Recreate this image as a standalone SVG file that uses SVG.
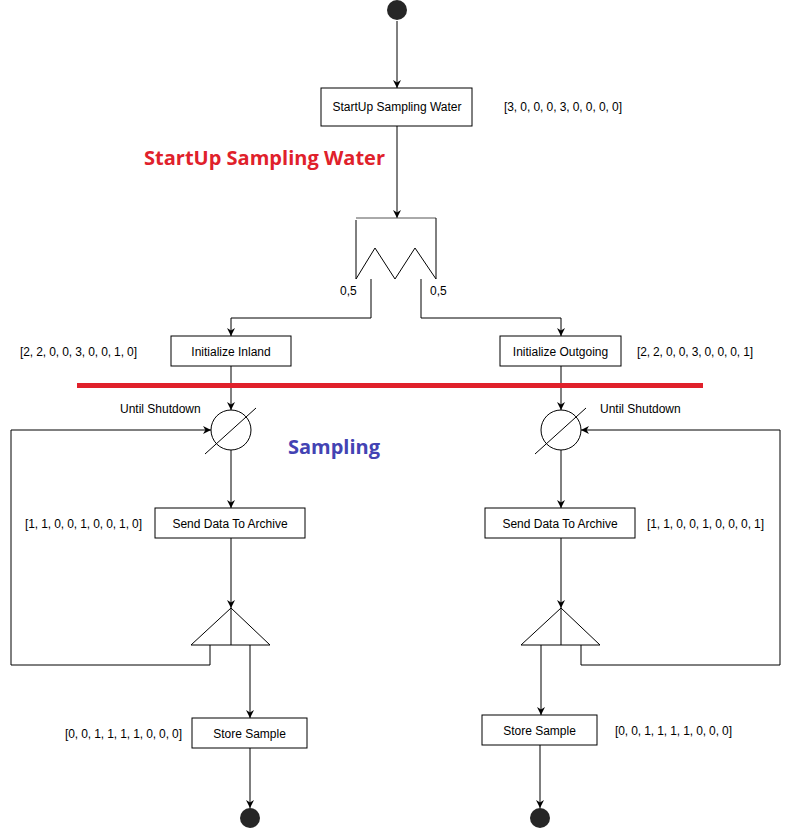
<svg xmlns="http://www.w3.org/2000/svg" width="789" height="829" viewBox="0 0 789 829">
<defs>
<marker id="arr" viewBox="0 0 10 10" refX="10" refY="5" markerWidth="8" markerHeight="8" markerUnits="userSpaceOnUse" orient="auto">
<path d="M0,0 L10,5 L0,10 L3,5 Z" fill="#000"/>
</marker>
</defs>
<style>
.box{fill:#fff;stroke:#000;stroke-width:1}
.ln{fill:none;stroke:#000;stroke-width:1}
.t{font-family:"Liberation Sans",Arial,sans-serif;font-size:12px;fill:#000}
.c{text-anchor:middle}
.dot{fill:#262626}
.h{font-family:"Open Sans","Liberation Sans",sans-serif;font-weight:bold;font-size:19px}
</style>
<rect width="789" height="829" fill="#fff"/>

<g id="connectors">
<path class="ln" d="M397,21 V88" marker-end="url(#arr)"/>
<path class="ln" d="M397,126 V218" marker-end="url(#arr)"/>
<path class="ln" d="M371,279 V318 H231 V336" marker-end="url(#arr)"/>
<path class="ln" d="M421,279 V318 H561 V336" marker-end="url(#arr)"/>
<path class="ln" d="M231,366 V410" marker-end="url(#arr)"/>
<path class="ln" d="M561,366 V410" marker-end="url(#arr)"/>
<path class="ln" d="M231,450 V508" marker-end="url(#arr)"/>
<path class="ln" d="M561,450 V508" marker-end="url(#arr)"/>
<path class="ln" d="M231,538 V608" marker-end="url(#arr)"/>
<path class="ln" d="M561,538 V608" marker-end="url(#arr)"/>
<path class="ln" d="M210,645 V665 H11 V430 H211" marker-end="url(#arr)"/>
<path class="ln" d="M581,645 V665 H780 V430 H581" marker-end="url(#arr)"/>
<path class="ln" d="M250,645 V718" marker-end="url(#arr)"/>
<path class="ln" d="M541,645 V715" marker-end="url(#arr)"/>
<path class="ln" d="M250,748 V808" marker-end="url(#arr)"/>
<path class="ln" d="M540,745 V808" marker-end="url(#arr)"/>
</g>

<g id="start"><circle class="dot" cx="397" cy="10" r="10"/></g>

<g id="startup">
<rect class="box" x="321" y="88" width="151" height="38"/>
<text class="t c" x="397" y="111">StartUp Sampling Water</text>
</g>
<text class="t" x="504" y="111" textLength="118">[3, 0, 0, 0, 3, 0, 0, 0, 0]</text>

<text class="h" x="144" y="165" fill="#e0212b" textLength="241" lengthAdjust="spacingAndGlyphs">StartUp Sampling Water</text>

<g id="fork">
<path d="M356,218 H436" fill="none" stroke="#555" stroke-width="1"/>
<path class="ln" d="M356,220 V279 L375,248 L395,279 L415,248 L436,279 V218"/>
</g>
<text class="t" x="340" y="295">0,5</text>
<text class="t" x="430" y="295">0,5</text>

<g id="init-inland">
<rect class="box" x="171" y="336" width="120" height="30"/>
<text class="t c" x="231" y="356">Initialize Inland</text>
</g>
<text class="t" x="20" y="356" textLength="117">[2, 2, 0, 0, 3, 0, 0, 1, 0]</text>

<g id="init-outgoing">
<rect class="box" x="500" y="336" width="121" height="30"/>
<text class="t c" x="560.5" y="356">Initialize Outgoing</text>
</g>
<text class="t" x="637" y="356" textLength="116">[2, 2, 0, 0, 3, 0, 0, 0, 1]</text>

<rect x="77" y="383" width="626" height="5" fill="#e0212b"/>

<g id="loop-left">
<circle class="box" cx="231" cy="430" r="20"/>
<path class="ln" d="M205,454 L256,408"/>
</g>
<text class="t" x="120" y="413">Until Shutdown</text>

<g id="loop-right">
<circle class="box" cx="561" cy="430" r="20"/>
<path class="ln" d="M535,454 L586,408"/>
</g>
<text class="t" x="600" y="413">Until Shutdown</text>

<text class="h" x="288" y="454" fill="#4343b3" textLength="92" lengthAdjust="spacingAndGlyphs">Sampling</text>

<g id="send-left">
<rect class="box" x="155" y="508" width="150" height="30"/>
<text class="t c" x="230" y="528">Send Data To Archive</text>
</g>
<text class="t" x="25" y="528" textLength="117">[1, 1, 0, 0, 1, 0, 0, 1, 0]</text>

<g id="send-right">
<rect class="box" x="485" y="508" width="150" height="30"/>
<text class="t c" x="560" y="528">Send Data To Archive</text>
</g>
<text class="t" x="647" y="528" textLength="117">[1, 1, 0, 0, 1, 0, 0, 0, 1]</text>

<g id="split-left">
<path class="box" d="M231,608 L191,645 L270,645 Z"/>
<path class="ln" d="M231,608 V645"/>
</g>
<g id="split-right">
<path class="box" d="M561,608 L521,645 L600,645 Z"/>
<path class="ln" d="M561,608 V645"/>
</g>

<g id="store-left">
<rect class="box" x="192" y="718" width="115" height="30"/>
<text class="t c" x="249.5" y="738">Store Sample</text>
</g>
<text class="t" x="65" y="738" textLength="117">[0, 0, 1, 1, 1, 1, 0, 0, 0]</text>

<g id="store-right">
<rect class="box" x="482" y="715" width="115" height="30"/>
<text class="t c" x="539.5" y="735">Store Sample</text>
</g>
<text class="t" x="615" y="735" textLength="117">[0, 0, 1, 1, 1, 1, 0, 0, 0]</text>

<g id="end-left"><circle class="dot" cx="250" cy="818" r="10"/></g>
<g id="end-right"><circle class="dot" cx="540" cy="818" r="10"/></g>
</svg>
